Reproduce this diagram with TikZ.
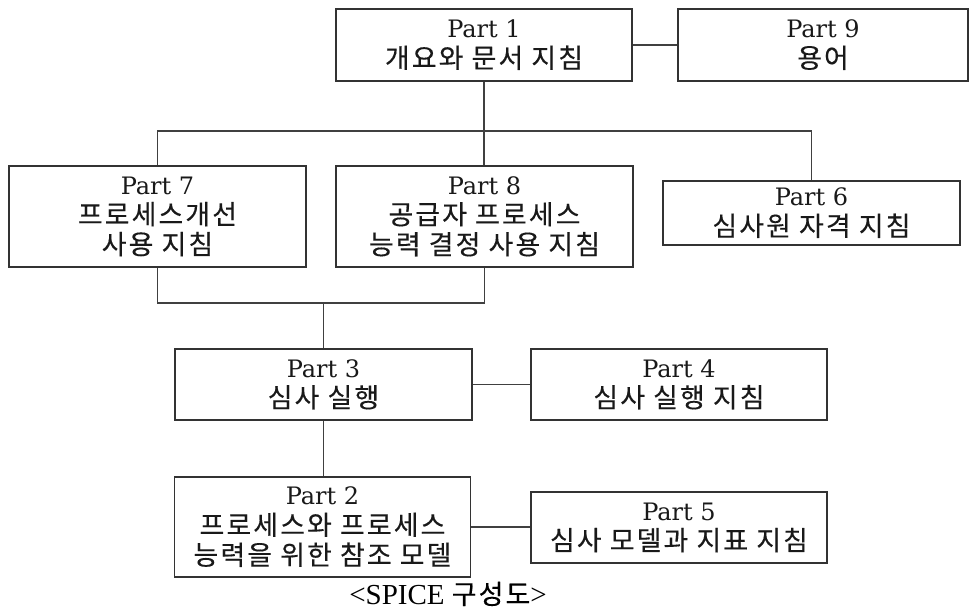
\documentclass[tikz,border=0pt]{standalone}
\usepackage{fontspec}
\setmainfont{DejaVu Serif}
\newfontfamily\kr{Noto Sans CJK KR}[Scale=1.12,LetterSpace=8,FakeBold=0.3]
\newfontfamily\capfont{Liberation Serif}
\begin{document}
\begin{tikzpicture}[x=1pt,y=-1pt,
  part/.style={draw=black!80, line width=1.3pt, fill=white, inner sep=0pt,
    align=center, text=black!90, font=\fontsize{24}{30}\selectfont},
  link/.style={draw=black!75, line width=1.2pt}]
\useasboundingbox (0,0) rectangle (969,611);

% boxes of the SPICE parts
\node[part, minimum width=296pt, minimum height=72pt]  (p1) at (484,45)    {Part 1\\{\kr 개요와 문서 지침}};
\node[part, minimum width=290pt, minimum height=72pt]  (p9) at (823,45)    {Part 9\\{\kr 용어}};
\node[part, minimum width=297pt, minimum height=101pt] (p7) at (157.5,216.5) {Part 7\\{\kr 프로세스개선}\\{\kr 사용 지침}};
\node[part, minimum width=297pt, minimum height=101pt] (p8) at (484.5,216.5) {Part 8\\{\kr 공급자 프로세스}\\{\kr 능력 결정 사용 지침}};
\node[part, minimum width=297pt, minimum height=64pt]  (p6) at (811.5,213) {Part 6\\{\kr 심사원 자격 지침}};
\node[part, minimum width=297pt, minimum height=71pt]  (p3) at (323.5,384.5) {Part 3\\{\kr 심사 실행}};
\node[part, minimum width=296pt, minimum height=71pt]  (p4) at (679,384.5) {Part 4\\{\kr 심사 실행 지침}};
\node[part, minimum width=296pt, minimum height=100pt] (p2) at (322.5,527) {Part 2\\{\kr 프로세스와 프로세스}\\{\kr 능력을 위한 참조 모델}};
\node[part, minimum width=296pt, minimum height=71pt]  (p5) at (679,527.5) {Part 5\\{\kr 심사 모델과 지표 지침}};

% caption
\node[anchor=base, inner sep=0pt, text=black, font=\fontsize{29}{30}\selectfont\capfont]
  (cap) at (448,604) {<SPICE {\kr\fontsize{24}{30}\selectfont 구성도}>};

% bus levels
\coordinate (bus) at (0,131);
\coordinate (bus2) at (0,303);

% connectors
\draw[link] (p1.east) -- (p9.west);
\draw[link] (p1.south) -- (p1.south |- p8.north);
\draw[link] (p7.north) |- (p6.north |- bus) -- (p6.north);
\draw[link] (p7.south) |- (p8.south |- bus2) -- (p8.south);
\draw[link] (p3.north |- bus2) -- (p3.north);
\draw[link] (p3.south) -- (p3.south |- p2.north);
\draw[link] (p3.east) -- (p4.west);
\draw[link] (p2.east) -- (p2.east -| p5.west);
\end{tikzpicture}
\end{document}
